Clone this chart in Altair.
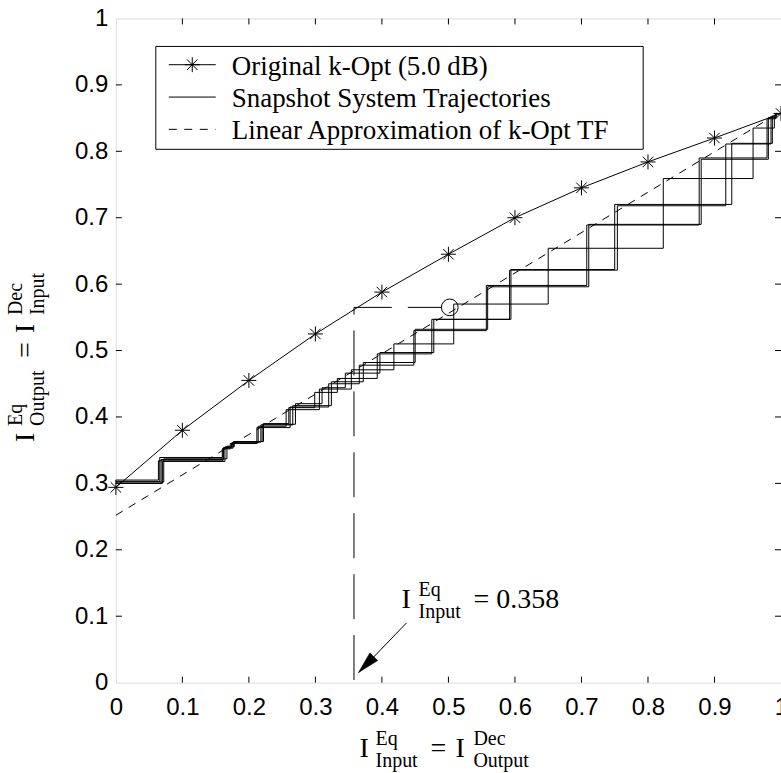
import altair as alt
import pandas as pd

# ---------------- data ----------------
kopt_x = [0.0, 0.1, 0.2, 0.3, 0.4, 0.5, 0.6, 0.7, 0.8, 0.9, 1.0]
kopt_y = [0.294, 0.380, 0.455, 0.525, 0.588, 0.645, 0.700, 0.745, 0.784, 0.820, 0.857]

lin_x = [0.0, 1.0]
lin_y = [0.252, 0.860]

traj1_x = [0.0, 0.068, 0.162, 0.174, 0.214, 0.256, 0.306, 0.354, 0.418, 0.508, 0.650, 0.823, 0.958, 0.990]
traj1_y = [0.300, 0.336, 0.354, 0.361, 0.386, 0.411, 0.442, 0.471, 0.510, 0.570, 0.654, 0.759, 0.835, 0.855]
traj2_x = [0.0, 0.066, 0.160, 0.172, 0.212, 0.262, 0.320, 0.366, 0.448, 0.557, 0.708, 0.877, 0.979, 0.992]
traj2_y = [0.303, 0.339, 0.352, 0.360, 0.384, 0.415, 0.450, 0.478, 0.530, 0.598, 0.689, 0.790, 0.849, 0.857]
traj3_x = [0.0, 0.064, 0.161, 0.176, 0.218, 0.266, 0.324, 0.372, 0.450, 0.559, 0.711, 0.880, 0.981, 0.993]
traj3_y = [0.305, 0.334, 0.353, 0.362, 0.388, 0.417, 0.453, 0.482, 0.532, 0.596, 0.690, 0.788, 0.851, 0.858]
traj4_x = [0.0, 0.070, 0.164, 0.178, 0.222, 0.260, 0.299, 0.333, 0.393, 0.475, 0.592, 0.754, 0.917, 0.985]
traj4_y = [0.300, 0.333, 0.355, 0.363, 0.390, 0.414, 0.437, 0.458, 0.495, 0.547, 0.621, 0.718, 0.811, 0.853]
traj5_x = [0.0, 0.072, 0.167, 0.177, 0.220, 0.270, 0.310, 0.345, 0.397, 0.478, 0.594, 0.750, 0.926, 0.987]
traj5_y = [0.302, 0.337, 0.356, 0.363, 0.389, 0.420, 0.444, 0.466, 0.497, 0.547, 0.622, 0.720, 0.812, 0.854]

guide_x = [0.490, 0.358, 0.358]
guide_y = [0.565, 0.565, 0.0]
circle_x = [0.502]
circle_y = [0.565]

arrow_x = [0.437, 0.365]
arrow_y = [0.090, 0.015]
arrowhead_x = [0.3763]
arrowhead_y = [0.0271]

ann_x = [0.4296]
ann_y = [0.1123]

tick_values = [0.0, 0.1, 0.2, 0.3, 0.4, 0.5, 0.6, 0.7, 0.8, 0.9, 1.0]
inner_ticks = [0.1, 0.2, 0.3, 0.4, 0.5, 0.6, 0.7, 0.8, 0.9]

legend_labels = ["Original k-Opt (5.0 dB)", "Snapshot System Trajectories",
                 "Linear Approximation of k-Opt TF"]

# ---------------- layout constants ----------------
W, H = 666, 665
SERIF = "Liberation Serif"
SANS = "Liberation Sans"
STAR = "M0,-1L0,1M-1,0L1,0M-0.7,-0.7L0.7,0.7M-0.7,0.7L0.7,-0.7"
ARROW = "M0,-1L0.5,1L-0.5,1Z"
SUB = 20      # sub/superscript font size
SUP_DY, SUB_DY = -12, 10

scale = alt.Scale(domain=[0, 1], nice=False, zero=False)


def X(field):
    return alt.X(f"{field}:Q", scale=scale,
                 axis=alt.Axis(values=tick_values, format="~g", title=None, domain=False,
                               ticks=False, tickSize=0, grid=False, labelPadding=13,
                               labelFontSize=24, labelFont=SANS, labelColor="black",
                               labelFlush=False, labelOverlap=False))


def Y(field):
    return alt.Y(f"{field}:Q", scale=scale,
                 axis=alt.Axis(values=tick_values, format="~g", title=None, domain=False,
                               ticks=False, tickSize=0, grid=False, labelPadding=8,
                               labelFontSize=24, labelFont=SANS, labelColor="black",
                               labelFlush=False, labelOverlap=False))


# ---------------- tables ----------------
rows = []
for name, xs, ys in [("T1", traj1_x, traj1_y), ("T2", traj2_x, traj2_y), ("T3", traj3_x, traj3_y),
                     ("T4", traj4_x, traj4_y), ("T5", traj5_x, traj5_y)]:
    for i, (a, b) in enumerate(zip(xs, ys)):
        rows.append({"traj": name, "o": i, "x": a, "y": b})
traj_df = pd.DataFrame(rows)
kopt_df = pd.DataFrame({"x": kopt_x, "y": kopt_y})
lin_df = pd.DataFrame({"x": lin_x, "y": lin_y})
guide_df = pd.DataFrame({"x": guide_x, "y": guide_y, "o": list(range(len(guide_x)))})
circle_df = pd.DataFrame({"x": circle_x, "y": circle_y})
arrow_df = pd.DataFrame({"x": arrow_x, "y": arrow_y})
arrowhead_df = pd.DataFrame({"x": arrowhead_x, "y": arrowhead_y})
ann_df = pd.DataFrame({"x": ann_x, "y": ann_y})
ticks_df = pd.DataFrame({"t": inner_ticks})
one = pd.DataFrame({"_": [0]})

layers = []

# trajectories
layers.append(alt.Chart(traj_df).mark_line(color="black", strokeWidth=1, interpolate="step-after")
              .encode(x=X("x"), y=Y("y"), detail="traj:N", order="o:Q"))
# linear approximation
layers.append(alt.Chart(lin_df).mark_line(color="black", strokeWidth=1, strokeDash=[8, 7])
              .encode(x=X("x"), y=Y("y")))
# k-opt curve
layers.append(alt.Chart(kopt_df).mark_line(color="black", strokeWidth=1)
              .encode(x=X("x"), y=Y("y")))
layers.append(alt.Chart(kopt_df).mark_point(shape=STAR, size=225, filled=False, stroke="black",
                                            strokeWidth=1, opacity=1)
              .encode(x=X("x"), y=Y("y")))
# guide dashed line and circle
layers.append(alt.Chart(guide_df).mark_line(color="black", strokeWidth=1, strokeDash=[45, 16],
                                            strokeDashOffset=11)
              .encode(x=X("x"), y=Y("y"), order="o:Q"))
layers.append(alt.Chart(circle_df).mark_point(shape="circle", size=280, filled=False, stroke="black",
                                              strokeWidth=1, opacity=1)
              .encode(x=X("x"), y=Y("y")))
# arrow
layers.append(alt.Chart(arrow_df).mark_line(color="black", strokeWidth=1)
              .encode(x=X("x"), y=Y("y")))
layers.append(alt.Chart(arrowhead_df).mark_point(shape=ARROW, size=484, filled=True, fill="black",
                                                 stroke="black", strokeWidth=0.5, opacity=1,
                                                 angle=224)
              .encode(x=X("x"), y=Y("y")))


def ann_text(s, size, dx=0, dy=0):
    return (alt.Chart(ann_df).mark_text(text=s, font=SERIF, fontSize=size, align="left",
                                        baseline="alphabetic", dx=dx, dy=dy, color="black")
            .encode(x=X("x"), y=Y("y")))


layers += [ann_text("I", 28), ann_text("Eq", SUB, 17, SUP_DY), ann_text("Input", SUB, 17, SUB_DY),
           ann_text("= 0.358", 28, 72, 0)]

# inward ticks on the four sides
layers.append(alt.Chart(ticks_df).mark_rule(color="black", strokeWidth=1)
              .encode(x=X("t"), y=alt.value(H), y2=alt.value(H - 6)))
layers.append(alt.Chart(ticks_df).mark_rule(color="black", strokeWidth=1)
              .encode(x=X("t"), y=alt.value(0), y2=alt.value(6)))
layers.append(alt.Chart(ticks_df).mark_rule(color="black", strokeWidth=1)
              .encode(y=Y("t"), x=alt.value(0), x2=alt.value(6)))
layers.append(alt.Chart(ticks_df).mark_rule(color="black", strokeWidth=1)
              .encode(y=Y("t"), x=alt.value(W), x2=alt.value(W - 6)))

# legend box
layers.append(alt.Chart(one).mark_rect(fill="white", stroke="black", strokeWidth=1)
              .encode(x=alt.value(40), x2=alt.value(528), y=alt.value(28), y2=alt.value(131)))
leg_rows = [46.3, 78.7, 111.0]
layers.append(alt.Chart(one).mark_rule(color="black", strokeWidth=1)
              .encode(x=alt.value(53), x2=alt.value(100), y=alt.value(leg_rows[0])))
layers.append(alt.Chart(one).mark_point(shape=STAR, size=225, filled=False, stroke="black",
                                        strokeWidth=1, opacity=1)
              .encode(x=alt.value(76.5), y=alt.value(leg_rows[0])))
layers.append(alt.Chart(one).mark_rule(color="black", strokeWidth=1)
              .encode(x=alt.value(53), x2=alt.value(100), y=alt.value(leg_rows[1])))
layers.append(alt.Chart(one).mark_rule(color="black", strokeWidth=1, strokeDash=[8, 7.5])
              .encode(x=alt.value(53), x2=alt.value(100), y=alt.value(leg_rows[2])))
for lab, yy in zip(legend_labels, leg_rows):
    layers.append(alt.Chart(one).mark_text(text=lab, font=SERIF, fontSize=27, align="left",
                                           baseline="alphabetic", color="black")
                  .encode(x=alt.value(116), y=alt.value(yy + 10)))


def piece(s, x, y, size, dx=0, dy=0, angle=0):
    return (alt.Chart(one).mark_text(text=s, font=SERIF, fontSize=size, align="left",
                                     baseline="alphabetic", dx=dx, dy=dy, angle=angle,
                                     color="black")
            .encode(x=alt.value(x), y=alt.value(y)))


# x-axis title  I^Eq_Input = I^Dec_Output
xt_x, xt_y = 244, 739
layers += [piece("I", xt_x, xt_y, 28), piece("Eq", xt_x, xt_y, SUB, 16, SUP_DY),
           piece("Input", xt_x, xt_y, SUB, 16, SUB_DY), piece("=", xt_x, xt_y, 28, 71, 0),
           piece("I", xt_x, xt_y, 28, 96, 0), piece("Dec", xt_x, xt_y, SUB, 114, SUP_DY),
           piece("Output", xt_x, xt_y, SUB, 114, SUB_DY)]

# y-axis title  I^Eq_Output = I^Dec_Input (rotated)
yt_x, yt_y = -82, 424
layers += [piece("I", yt_x, yt_y, 28, 0, 0, 270), piece("Eq", yt_x, yt_y, SUB, 16, SUP_DY, 270),
           piece("Output", yt_x, yt_y, SUB, 16, SUB_DY, 270), piece("=", yt_x, yt_y, 28, 84, 0, 270),
           piece("I", yt_x, yt_y, 28, 109, 0, 270), piece("Dec", yt_x, yt_y, SUB, 127, SUP_DY, 270),
           piece("Input", yt_x, yt_y, SUB, 127, SUB_DY, 270)]

chart = (alt.layer(*layers)
         .properties(width=W, height=H, autosize=alt.AutoSizeParams(type="none"),
                     padding={"left": 116, "top": 18, "right": 0, "bottom": 90})
         .configure_view(stroke="black", strokeWidth=1)
         .configure(background="white"))

chart.save("out.html", embed_options={"renderer": "svg", "actions": False})
